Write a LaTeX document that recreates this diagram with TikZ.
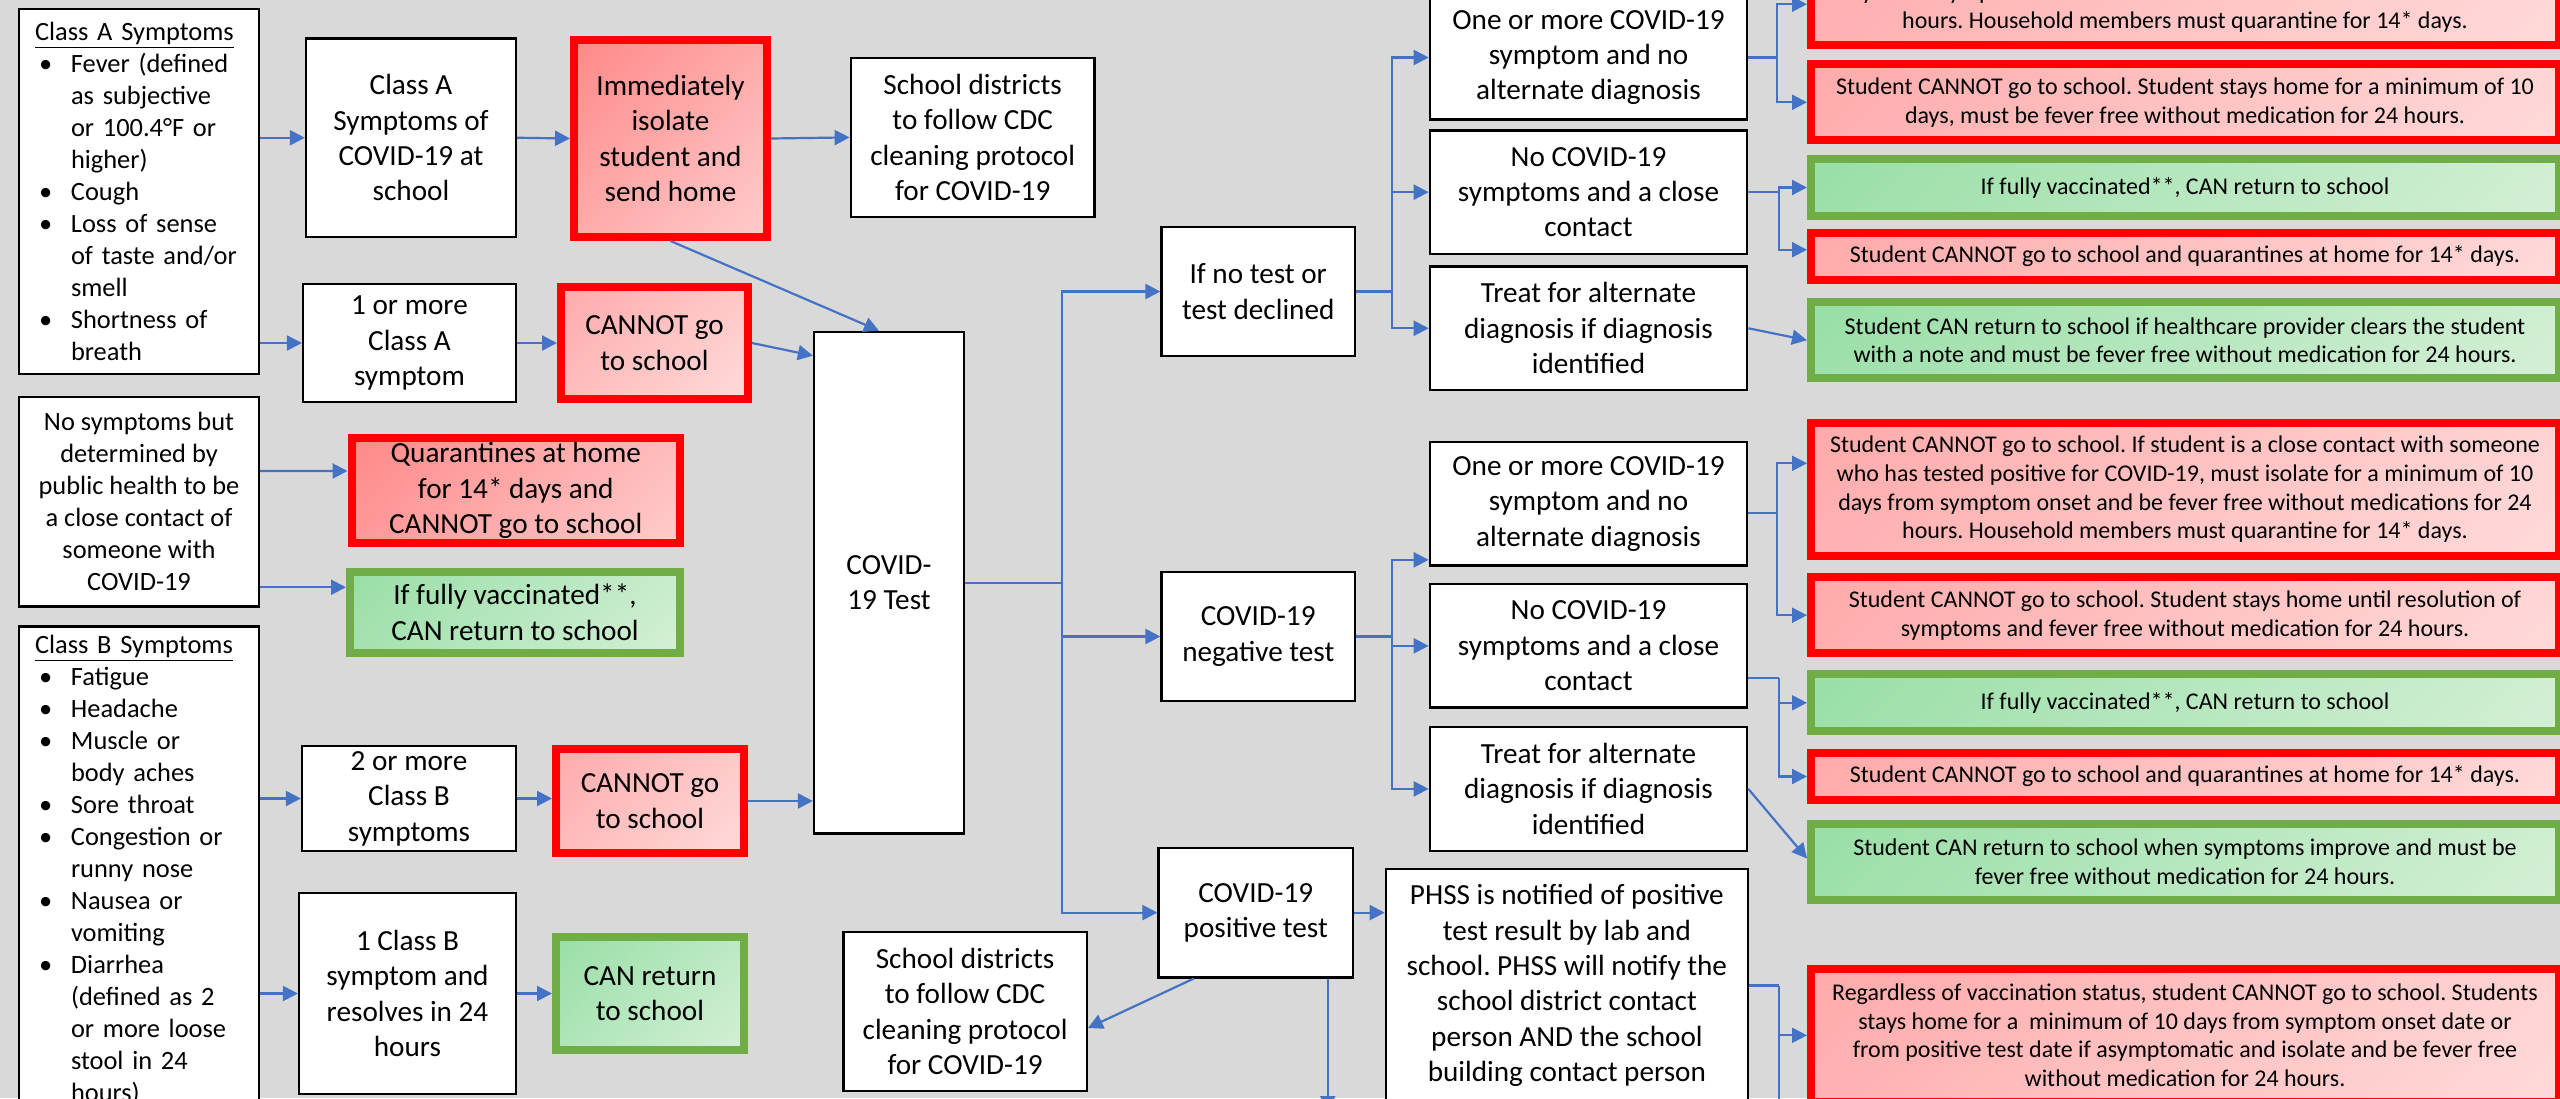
\documentclass[tikz,border=0pt]{standalone}
\usepackage{fontspec}
\setmainfont{Carlito}
\usetikzlibrary{arrows.meta}
\frenchspacing
\definecolor{bg}{RGB}{217,217,217}
\definecolor{cblue}{RGB}{68,114,196}
\definecolor{rline}{RGB}{255,0,0}
\definecolor{gline}{RGB}{112,173,71}
\definecolor{rtop}{RGB}{255,160,160}
\definecolor{rbot}{RGB}{255,228,228}
\definecolor{rdeep}{RGB}{255,122,122}
\definecolor{rdeepb}{RGB}{255,218,218}
\definecolor{gtop}{RGB}{140,219,156}
\definecolor{gbot}{RGB}{224,243,224}
\pgfdeclareverticalshading{rgrad}{100bp}{color(0bp)=(rbot); color(100bp)=(rtop)}
\pgfdeclareverticalshading{rdgrad}{100bp}{color(0bp)=(rdeepb); color(100bp)=(rdeep)}
\pgfdeclareverticalshading{ggrad}{100bp}{color(0bp)=(gbot); color(100bp)=(gtop)}
\newcommand{\fleft}{\fontsize{13.2}{16}\selectfont}
\newcommand{\fmid}{\fontsize{14.6}{17.7}\selectfont}
\newcommand{\fright}{\fontsize{12}{14.4}\selectfont}
\newcommand{\bul}{\hspace*{2pt}\makebox[16pt][l]{\textbullet}}
\newcommand{\ind}{\hspace*{18pt}}
\tikzset{
  box/.style={draw=black, line width=1.2pt, fill=white, inner sep=0pt, align=center, font=\fmid},
  redbox/.style={draw=rline, line width=4pt, shade, shading=rgrad, shading angle=45, inner sep=0pt, align=center, font=\fmid},
  deepbox/.style={redbox, shading=rdgrad, shading angle=45},
  greenbox/.style={redbox, draw=gline, shading=ggrad, shading angle=45},
  redwide/.style={redbox, font=\fright, minimum width=374pt},
  greenwide/.style={greenbox, font=\fright, minimum width=374pt},
  conn/.style={draw=cblue, line width=1.1pt},
  arr/.style={conn, -{Triangle[length=7.5pt,width=7.5pt]}},
  wh/.style 2 args={minimum width=#1pt, minimum height=#2pt}
}
\begin{document}
\begin{tikzpicture}[x=0.5pt,y=-0.5pt]
\useasboundingbox (0,0) rectangle (2560,1098);
\clip (0,0) rectangle (2560,1098);
\fill[bg] (0,0) rectangle (2560,1098);

\node[box, wh={119.9}{182.4}, font=\fleft, align=left, text width=104pt] (syma) at (139,191.5) {\underline{Class A Symptoms}\\ \bul Fever (defined\\ \ind as subjective\\ \ind or 100.4°F or\\ \ind higher)\\ \bul Cough\\ \bul Loss of sense\\ \ind of taste and/or\\ \ind smell\\ \bul Shortness of\\ \ind breath};
\node[box, wh={119.9}{104.9}, font=\fleft] (nosym) at (139,501.65) {No symptoms but\\determined by\\public health to be\\a close contact of\\someone with\\COVID-19};
\node[box, wh={119.9}{243.7}, font=\fleft, align=left, text width=104pt] (symb) at (139,870.2) {\underline{Class B Symptoms}\\ \bul Fatigue\\ \bul Headache\\ \bul Muscle or\\ \ind body aches\\ \bul Sore throat\\ \bul Congestion or\\ \ind runny nose\\ \bul Nausea or\\ \ind vomiting\\ \bul Diarrhea\\ \ind (defined as 2\\ \ind or more loose\\ \ind stool in 24\\ \ind hours)};

\node[box, wh={104.9}{99.15}] (clsa) at (411,137.75) {Class A\\Symptoms of\\COVID-19 at\\school};
\node[deepbox, wh={96.5}{98.5}] (isol) at (670.5,138.5) {Immediately\\isolate\\student and\\send home};
\node[box, wh={121.9}{79.5}] (sd1) at (972.7,137.4) {School districts\\to follow CDC\\cleaning protocol\\for COVID-19};
\node[box, wh={106.4}{58.9}] (onea) at (409.5,343) {1 or more\\Class A\\symptom};
\node[redbox, wh={93.5}{56}] (cann1) at (654.5,343) {CANNOT go\\to school};
\node[deepbox, wh={164.25}{52.5}] (quar) at (515.75,490.5) {Quarantines at home\\for 14* days and\\CANNOT go to school};
\node[greenbox, wh={165}{40.45}] (vacc) at (515,612.25) {If fully vaccinated**,\\CAN return to school};
\node[box, wh={106.9}{52.4}] (twob) at (409,798.5) {2 or more\\Class B\\symptoms};
\node[redbox, wh={94}{52.4}] (cann2) at (650,801) {CANNOT go\\to school};
\node[box, wh={108.4}{100.4}] (oneb) at (407.5,993.5) {1 Class B\\symptom and\\resolves in 24\\hours};
\node[greenbox, wh={94}{56.5}] (canret) at (650,993.5) {CAN return\\to school};

\node[box, wh={74.9}{250.85}] (test) at (889,582.75) {COVID-\\19 Test};
\node[box, wh={96.65}{64.4}] (notest) at (1258.25,291.5) {If no test or\\test declined};
\node[box, wh={96.65}{64.4}] (neg) at (1258.25,636.5) {COVID-19\\negative test};
\node[box, wh={97.15}{64.7}] (pos) at (1255.75,912.6) {COVID-19\\positive test};
\node[box, wh={121.6}{79.7}] (sd2) at (965.1,1011.5) {School districts\\to follow CDC\\cleaning protocol\\for COVID-19};
\node[box, wh={181}{116.4}] (phss) at (1566.9,985.5) {PHSS is notified of positive\\test result by lab and\\school. PHSS will notify the\\school district contact\\person AND the school\\building contact person};

\foreach \s/\ya/\yb/\yc in {1/57.5/192.15/328.25, 2/503.85/645.85/788.9}{
  \node[box, wh={158.6}{61.8}] (one\s) at (1588.5,\ya) {One or more COVID-19\\symptom and no\\alternate diagnosis};
  \node[box, wh={158.6}{61.8}] (no\s) at (1588.5,\yb) {No COVID-19\\symptoms and a close\\contact};
  \node[box, wh={158.6}{61.8}] (tr\s) at (1588.5,\yc) {Treat for alternate\\diagnosis if diagnosis\\identified};
}

\node[redwide, minimum height=66.3pt] (r1) at (2185,-21.3) {Student CANNOT go to school. If student is a close contact with someone\\who has tested positive for COVID-19, must isolate for a minimum of 10\\days from symptom onset and be fever free without medications for 24\\hours. Household members must quarantine for 14* days.};
\node[redwide, minimum height=38pt] (r2) at (2185,102.25) {Student CANNOT go to school. Student stays home for a minimum of 10\\days, must be fever free without medication for 24 hours.};
\node[greenwide, minimum height=28.4pt] (g1) at (2185,187.5) {If fully vaccinated**, CAN return to school};
\node[redwide, minimum height=23.6pt] (r3) at (2185,256.25) {Student CANNOT go to school and quarantines at home for 14* days.};
\node[greenwide, minimum height=38pt] (g2) at (2185,340.25) {Student CAN return to school if healthcare provider clears the student\\with a note and must be fever free without medication for 24 hours.};
\node[redwide, minimum height=66.3pt] (r5) at (2185,489.3) {Student CANNOT go to school. If student is a close contact with someone\\who has tested positive for COVID-19, must isolate for a minimum of 10\\days from symptom onset and be fever free without medications for 24\\hours. Household members must quarantine for 14* days.};
\node[redwide, minimum height=38pt] (r6) at (2185,615.2) {Student CANNOT go to school. Student stays home until resolution of\\symptoms and fever free without medication for 24 hours.};
\node[greenwide, minimum height=28.4pt] (g3) at (2185,702.8) {If fully vaccinated**, CAN return to school};
\node[redwide, minimum height=23.6pt] (r7) at (2185,776.5) {Student CANNOT go to school and quarantines at home for 14* days.};
\node[greenwide, minimum height=38pt] (g4) at (2185,862) {Student CAN return to school when symptoms improve and must be\\fever free without medication for 24 hours.};
\node[redwide, minimum height=66.3pt] (r8) at (2185,1035.3) {Regardless of vaccination status, student CANNOT go to school. Students\\stays home for a~ minimum of 10 days from symptom onset date or\\from positive test date if asymptomatic and isolate and be fever free\\without medication for 24 hours.};

\draw[arr] (syma.east |- clsa) -- (clsa.west);
\draw[arr] (clsa.east) -- (isol.west);
\draw[arr] (isol.east) -- (sd1.west);
\draw[arr] (syma.east |- onea) -- (onea.west);
\draw[arr] (onea.east) -- (cann1.west);
\draw[arr] (cann1.east) -- ([yshift=-12.5pt]test.north west);
\draw[arr] (isol.south) -- ([xshift=-5pt]test.north);
\draw[arr] ([yshift=15.3pt]nosym.east) -- ([yshift=9.75pt]quar.west);
\draw[arr] ([yshift=-42.8pt]nosym.east) -- ([yshift=12.5pt]vacc.west);
\draw[arr] (symb.east |- twob) -- (twob.west);
\draw[arr] (twob.east) -- (cann2.west |- twob.east);
\draw[arr] (cann2.east) -- (test.west |- cann2.east);
\draw[arr] (symb.east |- oneb) -- (oneb.west);
\draw[arr] (oneb.east) -- (canret.west);

\draw[conn] (test.east) -- ++(97,0) coordinate (hub);
\draw[arr] (hub) |- (notest.west);
\draw[arr] (hub) |- (neg.west);
\draw[arr] (hub) |- (pos.west);
\draw[conn] (notest.east) -- ++(36,0) coordinate (h1);
\draw[conn] (neg.east) -- ++(36,0) coordinate (h2);
\draw[arr] (h1) |- (one1.west);
\draw[arr] (h2) |- ([yshift=-28pt]one2.west);
\foreach \s in {1,2}{
  \draw[arr] (h\s) |- (no\s.west);
  \draw[arr] (h\s) |- (tr\s.west);
}

\draw[arr] (pos.east) -- (phss.west |- pos.east);
\draw[arr] ([xshift=18.25pt]pos.south west) -- ([yshift=-8.25pt]sd2.east);
\coordinate (posdn) at ([xshift=36pt,yshift=-66.3pt]pos.south);
\draw[arr] ([xshift=36pt]pos.south) -- (posdn);
\draw[conn] (phss.east) -- ++(30,0) coordinate (hp);
\draw[conn] (hp) -- (hp |- posdn);
\draw[arr] (hp) |- (r8.west);

\draw[conn] (one1.east) -- ++(29,0) coordinate (k1);
\draw[arr] (k1) |- ([yshift=-12.75pt]r1.west);
\draw[arr] (k1) |- (r2.west);
\draw[conn] (no1.east) -- ++(31,0) coordinate (k2);
\draw[arr] (k2) |- (g1.west);
\draw[arr] (k2) |- ([yshift=3.25pt]r3.west);
\draw[arr] (tr1.east) -- (g2.west);
\draw[conn] ([yshift=-4.6pt]one2.east) -- ++(29,0) coordinate (k3);
\draw[arr] (k3) |- ([yshift=13pt]r5.west);
\draw[arr] (k3) |- (r6.west);
\draw[conn] ([yshift=-16pt]no2.east) -- ++(31,0) coordinate (k4);
\draw[arr] (k4) |- (g3.west);
\draw[arr] (k4) |- (r7.west);
\draw[arr] (tr2.east) -- ([yshift=1.75pt]g4.west);
\end{tikzpicture}
\end{document}
